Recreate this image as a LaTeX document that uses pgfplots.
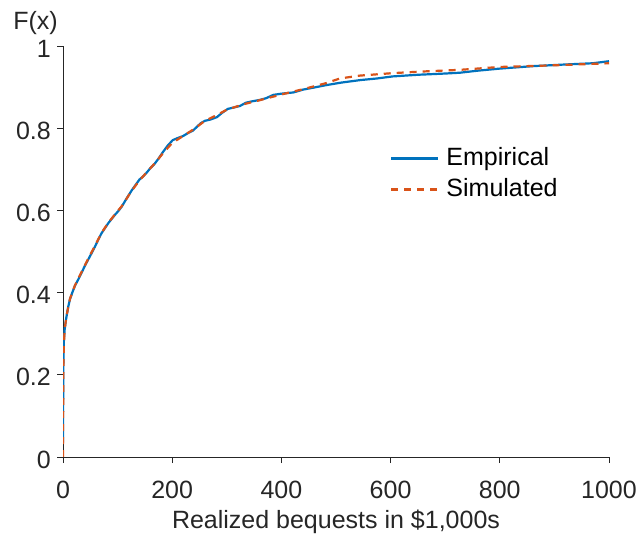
\documentclass[border=0pt]{standalone}
\usepackage{pgfplots}
\pgfplotsset{compat=1.18}
\usepackage{fontspec}
\setmainfont{Liberation Sans}
\definecolor{mblue}{HTML}{0072BD}
\definecolor{morange}{HTML}{D95319}
\definecolor{axgray}{HTML}{262626}
\pgfplotstableread{
x y
0 0.035
0.3 0.15
0.8 0.24
1.5 0.28
3 0.31
5 0.33
6.7 0.344
9.5 0.365
12.8 0.384
17 0.40
22 0.417
28 0.432
34 0.448
40 0.465
46 0.48
52 0.495
58.6 0.512
65 0.530
70.8 0.545
77 0.557
83 0.569
89 0.579
95 0.589
101 0.598
107.5 0.609
116 0.628
126 0.649
133 0.662
140 0.675
147 0.683
154 0.693
160 0.703
167 0.712
175 0.726
183 0.742
192 0.758
201 0.771
210 0.776
220 0.781
230 0.789
238 0.794
245 0.803
252 0.812
260 0.818
270 0.821
282 0.827
292 0.838
302 0.847
315 0.851
324 0.854
335 0.862
345 0.865
361 0.869
372 0.873
385 0.881
400 0.884
422 0.887
440 0.894
460 0.899
483 0.905
510 0.911
544 0.917
575 0.921
604 0.926
650 0.930
700 0.933
727 0.935
760 0.940
800 0.945
861 0.951
920 0.955
970 0.958
1000 0.963
}\empirical
\pgfplotstableread{
x y
0 0
0.3 0.12
0.8 0.22
1.5 0.27
3 0.31
6.7 0.345
12.8 0.385
22 0.418
34 0.450
46 0.482
59 0.515
71 0.546
83 0.570
95 0.590
108 0.611
126 0.648
140 0.673
155 0.695
167 0.713
185 0.742
200 0.764
220 0.781
240 0.798
260 0.818
282 0.832
300 0.845
330 0.858
360 0.868
400 0.882
440 0.895
483 0.910
507 0.921
544 0.928
604 0.934
660 0.938
727 0.942
800 0.949
900 0.953
1000 0.958
}\simulated
\begin{document}
\begin{tikzpicture}[font=\fontsize{25bp}{30bp}\selectfont]
\useasboundingbox (0,0) rectangle (639bp,540bp);
\begin{axis}[
  at={(63bp,83bp)}, anchor=south west,
  scale only axis, width=546bp, height=411bp,
  xmin=0, xmax=1000, ymin=0, ymax=1,
  axis x line*=bottom, axis y line*=left,
  axis line style={-, axgray, line width=0.8bp},
  tick style={axgray, line width=0.8bp},
  major tick length=6bp, tick align=outside,
  xtick={0,200,400,600,800,1000},
  ytick={0,0.2,0.4,0.6,0.8,1},
  /pgf/number format/assume math mode=true,
  /pgf/number format/1000 sep={},
  ticklabel style={text=axgray},
  xticklabel style={anchor=north, inner sep=0pt, yshift=-18bp},
  yticklabel style={anchor=east, inner sep=0pt, xshift=-6bp, yshift=-2.5bp},
  xlabel={Realized bequests in \$1,000s},
  xlabel style={at={(rel axis cs:0.5,0)}, anchor=base, yshift=-71bp, inner sep=0pt, text=axgray},
  legend image code/.code={\draw[#1] (0bp,0bp) -- (47bp,0bp);},
  legend style={draw=none, fill=none, at={(rel axis cs:0.599,0.7545)}, anchor=north west,
    inner sep=0pt, row sep=8bp, column sep=7bp,
    nodes={inner sep=0pt, text height=18bp, text depth=5bp, anchor=west}},
  legend cell align=left,
]
\addplot[mblue, line width=2.2bp] table[x=x,y=y] {\empirical};
\addlegendentry{Empirical}
\addplot[morange, line width=2.2bp, dash pattern=on 7bp off 6bp] table[x=x,y=y] {\simulated};
\addlegendentry{Simulated}
\end{axis}
\node[anchor=base, inner sep=0pt, text=axgray] at (35.5bp,510bp) {F(x)};
\end{tikzpicture}
\end{document}
